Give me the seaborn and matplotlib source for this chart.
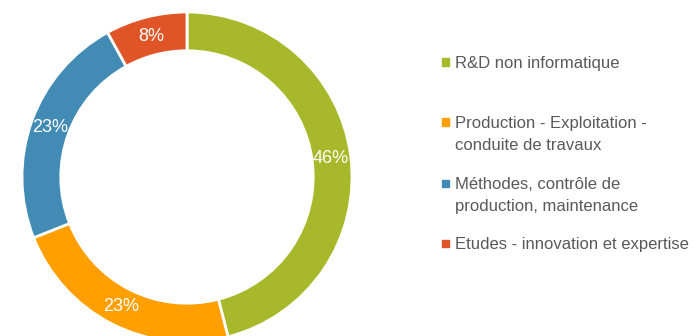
import matplotlib
matplotlib.use('Agg')
import matplotlib.pyplot as plt
from matplotlib.patches import Rectangle
import seaborn as sns

# données
categories = [
    "R&D non informatique",
    "Production - Exploitation -\nconduite de travaux",
    "Méthodes, contrôle de\nproduction, maintenance",
    "Etudes - innovation et expertise",
]
shares = [46, 23, 23, 8]
colors = sns.color_palette(['#A7B82A', '#FF9F00', '#428BB4', '#E05528'])

sns.set_theme(style='white')
plt.rcParams['font.family'] = ['Liberation Sans Narrow', 'Liberation Sans', 'DejaVu Sans']

W, H = 697, 336
fig = plt.figure(figsize=(W / 100, H / 100), dpi=100)
fig.patch.set_facecolor('white')

# donut : centre (187, 177) px, rayon 165 px
cx, cy, r = 187, 177, 165
ax = fig.add_axes([(cx - r) / W, (H - cy - r) / H, 2 * r / W, 2 * r / H])
ax.set_aspect('equal')
ax.axis('off')

wedges, texts = ax.pie(
    shares, colors=colors, startangle=90, counterclock=False,
    radius=1.0, wedgeprops=dict(width=0.235, edgecolor='white', linewidth=2),
    labels=[f'{v}%' for v in shares], labeldistance=0.88,
    textprops=dict(color='white', fontsize=13, ha='center', va='center'),
)
ax.set_xlim(-1, 1)
ax.set_ylim(-1, 1)

# légende à droite
leg_y = [62, 122, 183, 243]
for name, col, y in zip(categories, colors, leg_y):
    fig.patches.append(Rectangle((442 / W, (H - y - 3.5) / H), 7 / W, 7 / H,
                                 transform=fig.transFigure, color=col, figure=fig))
    fig.text(455 / W, (H - y + 6) / H, name, fontsize=12, color='#595959',
             ha='left', va='top', linespacing=1.6)

fig.savefig('out.png', dpi=100, facecolor='white')
